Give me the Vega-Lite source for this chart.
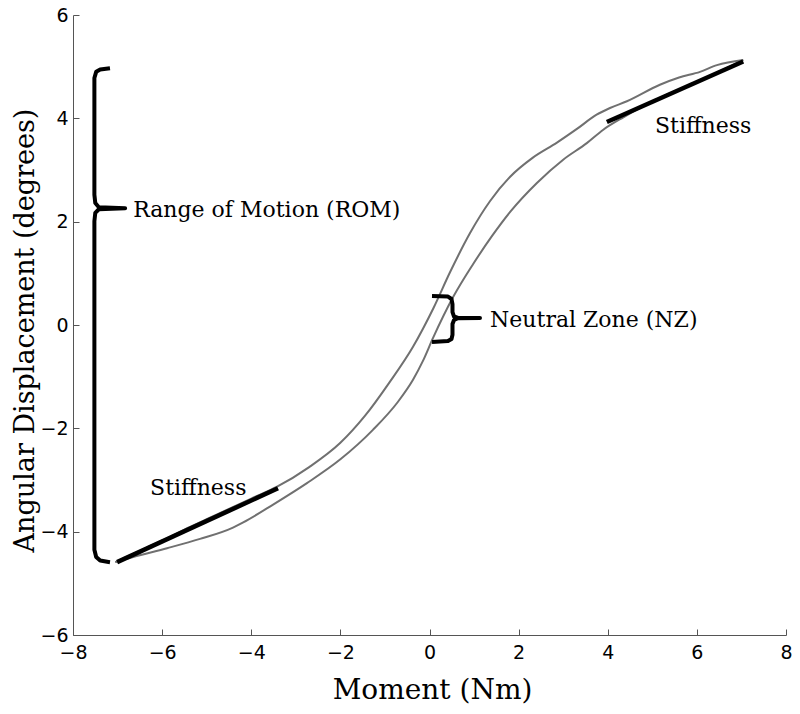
{
  "$schema": "https://vega.github.io/schema/vega-lite/v6.json",
  "autosize": {"type": "none"},
  "padding": {"left": 73, "top": 15, "right": 14, "bottom": 79},
  "width": 713,
  "height": 620,
  "background": "white",
  "config": {"view": {"stroke": null}},
  "datasets": {
    "curves": [
      {"s": "upper", "i": 0, "x": -7.05, "y": -4.59},
      {"s": "upper", "i": 1, "x": -6.5, "y": -4.37},
      {"s": "upper", "i": 2, "x": -6.0, "y": -4.17},
      {"s": "upper", "i": 3, "x": -5.5, "y": -3.96},
      {"s": "upper", "i": 4, "x": -5.0, "y": -3.76},
      {"s": "upper", "i": 5, "x": -4.5, "y": -3.56},
      {"s": "upper", "i": 6, "x": -4.0, "y": -3.36},
      {"s": "upper", "i": 7, "x": -3.42, "y": -3.13},
      {"s": "upper", "i": 8, "x": -2.7, "y": -2.75},
      {"s": "upper", "i": 9, "x": -2.0, "y": -2.28},
      {"s": "upper", "i": 10, "x": -1.45, "y": -1.76},
      {"s": "upper", "i": 11, "x": -0.89, "y": -1.1},
      {"s": "upper", "i": 12, "x": -0.37, "y": -0.42},
      {"s": "upper", "i": 13, "x": 0.09, "y": 0.33},
      {"s": "upper", "i": 14, "x": 0.46, "y": 1.02},
      {"s": "upper", "i": 15, "x": 0.91, "y": 1.78},
      {"s": "upper", "i": 16, "x": 1.36, "y": 2.4},
      {"s": "upper", "i": 17, "x": 1.81, "y": 2.87},
      {"s": "upper", "i": 18, "x": 2.32, "y": 3.24},
      {"s": "upper", "i": 19, "x": 2.86, "y": 3.53},
      {"s": "upper", "i": 20, "x": 3.3, "y": 3.79},
      {"s": "upper", "i": 21, "x": 3.75, "y": 4.07},
      {"s": "upper", "i": 22, "x": 4.05, "y": 4.2},
      {"s": "upper", "i": 23, "x": 4.43, "y": 4.33},
      {"s": "upper", "i": 24, "x": 5.17, "y": 4.65},
      {"s": "upper", "i": 25, "x": 5.6, "y": 4.79},
      {"s": "upper", "i": 26, "x": 6.07, "y": 4.9},
      {"s": "upper", "i": 27, "x": 6.45, "y": 5.03},
      {"s": "upper", "i": 28, "x": 7.04, "y": 5.13},
      {"s": "lower", "i": 0, "x": -7.05, "y": -4.59},
      {"s": "lower", "i": 1, "x": -6.65, "y": -4.49},
      {"s": "lower", "i": 2, "x": -5.89, "y": -4.32},
      {"s": "lower", "i": 3, "x": -5.15, "y": -4.14},
      {"s": "lower", "i": 4, "x": -4.41, "y": -3.92},
      {"s": "lower", "i": 5, "x": -4.18, "y": -3.82},
      {"s": "lower", "i": 6, "x": -3.5, "y": -3.47},
      {"s": "lower", "i": 7, "x": -2.75, "y": -3.06},
      {"s": "lower", "i": 8, "x": -2.0, "y": -2.6},
      {"s": "lower", "i": 9, "x": -1.27, "y": -2.03},
      {"s": "lower", "i": 10, "x": -0.72, "y": -1.5},
      {"s": "lower", "i": 11, "x": -0.37, "y": -1.06},
      {"s": "lower", "i": 12, "x": -0.15, "y": -0.7},
      {"s": "lower", "i": 13, "x": 0.08, "y": -0.25},
      {"s": "lower", "i": 14, "x": 0.53, "y": 0.54},
      {"s": "lower", "i": 15, "x": 0.98, "y": 1.18},
      {"s": "lower", "i": 16, "x": 1.4, "y": 1.72},
      {"s": "lower", "i": 17, "x": 1.81, "y": 2.19},
      {"s": "lower", "i": 18, "x": 2.41, "y": 2.75},
      {"s": "lower", "i": 19, "x": 3.0, "y": 3.2},
      {"s": "lower", "i": 20, "x": 3.53, "y": 3.52},
      {"s": "lower", "i": 21, "x": 3.9, "y": 3.78},
      {"s": "lower", "i": 22, "x": 4.35, "y": 4.02},
      {"s": "lower", "i": 23, "x": 4.79, "y": 4.23},
      {"s": "lower", "i": 24, "x": 5.3, "y": 4.45},
      {"s": "lower", "i": 25, "x": 5.91, "y": 4.67},
      {"s": "lower", "i": 26, "x": 6.59, "y": 4.94},
      {"s": "lower", "i": 27, "x": 7.04, "y": 5.13}
    ],
    "stiff": [
      {"s": "neg", "i": 0, "x": -7.01, "y": -4.59},
      {"s": "neg", "i": 1, "x": -3.4, "y": -3.16},
      {"s": "pos", "i": 0, "x": 3.98, "y": 3.93},
      {"s": "pos", "i": 1, "x": 7.04, "y": 5.1}
    ],
    "brackets": [
      {"s": "rom", "i": 0, "x": -7.17, "y": 4.97},
      {"s": "rom", "i": 1, "x": -7.39, "y": 4.945},
      {"s": "rom", "i": 2, "x": -7.48, "y": 4.9},
      {"s": "rom", "i": 3, "x": -7.52, "y": 4.78},
      {"s": "rom", "i": 4, "x": -7.52, "y": 2.52},
      {"s": "rom", "i": 5, "x": -7.5, "y": 2.36},
      {"s": "rom", "i": 6, "x": -7.42, "y": 2.28},
      {"s": "rom", "i": 7, "x": -6.83, "y": 2.26},
      {"s": "rom", "i": 8, "x": -7.42, "y": 2.24},
      {"s": "rom", "i": 9, "x": -7.5, "y": 2.17},
      {"s": "rom", "i": 10, "x": -7.52, "y": 2.01},
      {"s": "rom", "i": 11, "x": -7.52, "y": -4.35},
      {"s": "rom", "i": 12, "x": -7.48, "y": -4.49},
      {"s": "rom", "i": 13, "x": -7.39, "y": -4.56},
      {"s": "rom", "i": 14, "x": -7.17, "y": -4.59},
      {"s": "nz", "i": 0, "x": 0.056, "y": 0.56},
      {"s": "nz", "i": 1, "x": 0.415, "y": 0.55},
      {"s": "nz", "i": 2, "x": 0.494, "y": 0.503},
      {"s": "nz", "i": 3, "x": 0.516, "y": 0.406},
      {"s": "nz", "i": 4, "x": 0.516, "y": 0.25},
      {"s": "nz", "i": 5, "x": 0.55, "y": 0.165},
      {"s": "nz", "i": 6, "x": 0.64, "y": 0.136},
      {"s": "nz", "i": 7, "x": 1.133, "y": 0.136},
      {"s": "nz", "i": 8, "x": 0.64, "y": 0.13},
      {"s": "nz", "i": 9, "x": 0.55, "y": 0.097},
      {"s": "nz", "i": 10, "x": 0.516, "y": 0.02},
      {"s": "nz", "i": 11, "x": 0.516, "y": -0.19},
      {"s": "nz", "i": 12, "x": 0.494, "y": -0.27},
      {"s": "nz", "i": 13, "x": 0.415, "y": -0.31},
      {"s": "nz", "i": 14, "x": 0.056, "y": -0.33}
    ],
    "labels": [
      {"t": "Range of Motion (ROM)", "x": -6.65, "y": 2.23},
      {"t": "Neutral Zone (NZ)", "x": 1.36, "y": 0.1},
      {"t": "Stiffness", "x": 5.06, "y": 3.85},
      {"t": "Stiffness", "x": -6.27, "y": -3.15}
    ]
  },
  "encoding": {
    "x": {
      "field": "x", "type": "quantitative",
      "scale": {"domain": [-8, 8], "nice": false, "zero": false},
      "axis": {
        "title": "Moment (Nm)",
        "values": [-8, -6, -4, -2, 0, 2, 4, 6, 8],
        "grid": false,
        "domainColor": "#555555",
        "tickColor": "#555555",
        "tickSize": -6,
        "labelPadding": 14,
        "labelFont": "DejaVu Sans",
        "labelFontSize": 19,
        "labelColor": "black",
        "labelFlush": false,
        "labelOverlap": false,
        "titleFont": "DejaVu Serif",
        "titleFontSize": 28,
        "titleFontWeight": "normal",
        "titleColor": "black",
        "titleX": 359,
        "titleY": 63,
        "titleBaseline": "alphabetic"
      }
    },
    "y": {
      "field": "y", "type": "quantitative",
      "scale": {"domain": [-6, 6], "nice": false, "zero": false},
      "axis": {
        "title": "Angular Displacement (degrees)",
        "values": [-6, -4, -2, 0, 2, 4, 6],
        "grid": false,
        "domainColor": "#555555",
        "tickColor": "#555555",
        "tickSize": -6,
        "labelPadding": 11,
        "labelFont": "DejaVu Sans",
        "labelFontSize": 19,
        "labelColor": "black",
        "labelFlush": false,
        "labelOverlap": false,
        "titleFont": "DejaVu Serif",
        "titleFontSize": 27,
        "titleFontWeight": "normal",
        "titleColor": "black",
        "titleX": -40,
        "titleY": 315,
        "titleAngle": -90,
        "titleAlign": "center",
        "titleBaseline": "alphabetic"
      }
    }
  },
  "layer": [
    {
      "data": {"name": "curves"},
      "mark": {"type": "line", "color": "#707070", "strokeWidth": 2, "interpolate": "monotone"},
      "encoding": {"detail": {"field": "s"}, "order": {"field": "i", "type": "quantitative"}}
    },
    {
      "data": {"name": "stiff"},
      "mark": {"type": "line", "color": "black", "strokeWidth": 4.5},
      "encoding": {"detail": {"field": "s"}, "order": {"field": "i", "type": "quantitative"}}
    },
    {
      "data": {"name": "brackets"},
      "mark": {"type": "line", "color": "black", "strokeWidth": 4, "strokeJoin": "round"},
      "encoding": {"detail": {"field": "s"}, "order": {"field": "i", "type": "quantitative"}}
    },
    {
      "data": {"name": "labels"},
      "mark": {"type": "text", "align": "left", "baseline": "middle", "font": "DejaVu Serif", "fontSize": 22, "color": "black"},
      "encoding": {"text": {"field": "t"}}
    }
  ]
}
